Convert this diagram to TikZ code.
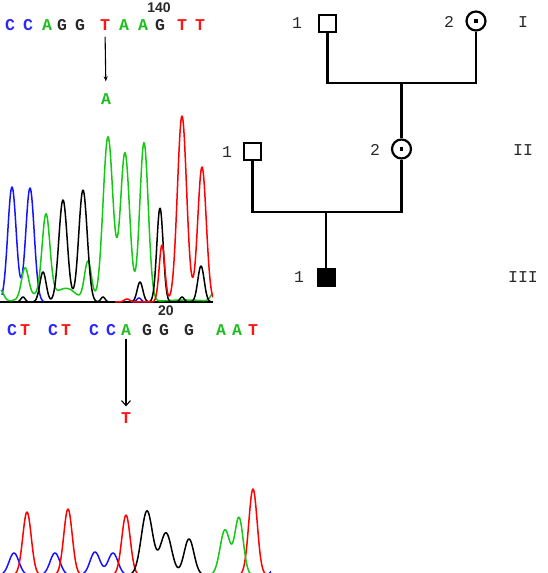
\documentclass[tikz,border=0pt]{standalone}
\usepackage{fontspec}
\newfontfamily\seqfont{Liberation Mono}
\newfontfamily\numfont{Liberation Sans}
\usetikzlibrary{arrows.meta}
\definecolor{sqblue}{RGB}{40,40,255}
\definecolor{sqgreen}{RGB}{30,190,30}
\definecolor{sqred}{RGB}{255,20,20}
\definecolor{sqblack}{RGB}{40,40,40}
\definecolor{trblue}{RGB}{20,20,255}
\definecolor{trgreen}{RGB}{20,200,20}
\definecolor{trred}{RGB}{255,0,0}
\begin{document}
\begin{tikzpicture}[x=1pt,y=-1pt,
  declare function={g(\x,\c,\w)=exp(-min(((\x-\c)/\w)^2,20));},
  base/.style={inner sep=0pt,anchor=center},
  seq/.style={base,font=\seqfont\bfseries\fontsize{16.5}{16.5}\selectfont},
  lb/.style={seq,text=sqblue},
  lg/.style={seq,text=sqgreen},
  lr/.style={seq,text=sqred},
  lk/.style={seq,text=sqblack},
  posnum/.style={base,font=\numfont\bfseries\fontsize{14}{14}\selectfont,text=sqblack},
  plab/.style={base,font=\seqfont\fontsize{16.5}{16.5}\selectfont,text=sqblack},
  trace/.style={line width=1.5pt,line join=round,smooth},
  ped/.style={line width=2.3pt},
  male/.style={draw,line width=2pt,rectangle,minimum size=17pt,inner sep=0pt,fill=white},
  affected/.style={male,fill=black},
  carrier/.style={draw,line width=2.2pt,circle,minimum size=19pt,inner sep=0pt,fill=white},
  dotmark/.style={fill=black,rectangle,minimum size=3.4pt,inner sep=0pt},
  mut/.style={line width=1.1pt}
]
\useasboundingbox (0,0) rectangle (548,573);

% ---------- sequence 1 ----------
\node[posnum] (n140) at (159,8) {140};
\node[lb] (a1) at (10,25) {C};
\node[lb] (a2) at (28,25) {C};
\node[lg] (a3) at (47,25) {A};
\node[lk] (a4) at (62,25) {G};
\node[lk] (a5) at (80,25) {G};
\node[lr] (a6) at (105,25) {T};
\node[lg] (a7) at (124,25) {A};
\node[lg] (a8) at (143,25) {A};
\node[lk] (a9) at (160,25) {G};
\node[lr] (a10) at (182,25) {T};
\node[lr] (a11) at (200,25) {T};
\node[lg] (m1) at (106,99) {A};
\draw[mut,-{Stealth[length=5pt,width=4pt]},shorten <=6pt,shorten >=12pt] (a6.south) -- (m1.north);

% ---------- chromatogram 1 ----------
\begin{scope}
\clip (0,100) rectangle (213,304);
\draw[line width=1.3pt] (0,302) -- (213,302);
\draw[trace,trblue] plot[domain=2:44,samples=80] (\x,{302-115*g(\x,12,6)-114*g(\x,30,6)});
\draw[trace,trblue] plot[domain=130:148,samples=30] (\x,{302-4*g(\x,139,3)});
\draw[trace,trgreen] plot[domain=1:213,samples=320] (\x,{302-12*g(\x,0,5)-30*g(\x,25,5)-80*g(\x,46,5.5)-8*g(\x,45,25)-10*g(\x,68,12)-40*g(\x,88,5)-165*g(\x,108,7)-149*g(\x,125,6.5)-159*g(\x,144,6)-2*g(\x,185,30)-7*g(\x,213,4)});
\draw[trace,black] plot[domain=15:213,samples=320] (\x,{302-5*g(\x,23,3)-30*g(\x,43,4.5)-102*g(\x,63,6)-112*g(\x,83,6)-5*g(\x,103,3)-20*g(\x,140,4)-94*g(\x,160,4.5)-5*g(\x,182,3)-36*g(\x,201,4.5)});
\draw[trace,trred] plot[domain=115:213,samples=200] (\x,{302-3*g(\x,127,4)-57*g(\x,162,4)-186*g(\x,182,6.5)-135*g(\x,202,6)});
\end{scope}

% ---------- sequence 2 ----------
\node[posnum] (n20) at (166,311) {20};
\node[lb] (b1) at (12,330) {C};
\node[lr] (b2) at (25,330) {T};
\node[lb] (b3) at (53,330) {C};
\node[lr] (b4) at (66,330) {T};
\node[lb] (b5) at (94,330) {C};
\node[lb] (b6) at (111,330) {C};
\node[lg] (b7) at (126,330) {A};
\node[lk] (b8) at (147,330) {G};
\node[lk] (b9) at (164,330) {G};
\node[lk] (b10) at (189,330) {G};
\node[lg] (b11) at (221,330) {A};
\node[lg] (b12) at (237,330) {A};
\node[lr] (b13) at (253,330) {T};
\node[lr] (m2) at (126,418) {T};
\draw[mut,-{Straight Barb[length=5pt,width=9pt]},shorten <=3pt,shorten >=6pt] (b7.south) -- (m2.north);

% ---------- chromatogram 2 ----------
\begin{scope}
\clip (0,420) rectangle (271,573);
\draw[trace,trblue] plot[domain=0:271,samples=300] (\x,{575-22*g(\x,14,7)-22*g(\x,55,7)-23*g(\x,95,7)-22*g(\x,113,7)-22*g(\x,279,6)});
\draw[trace,trred] plot[domain=0:271,samples=300] (\x,{575-63*g(\x,27,6)-66*g(\x,68,6)-60*g(\x,126,6)-86*g(\x,253,6)});
\draw[trace,black] plot[domain=120:215,samples=150] (\x,{575-64*g(\x,147,8)-42*g(\x,166,8)-36*g(\x,189,7)});
\draw[trace,trgreen] plot[domain=200:265,samples=120] (\x,{575-45*g(\x,225,7)-57*g(\x,239,6)});
\end{scope}

% ---------- pedigree ----------
\node[male] (i1) at (327.5,23.5) {};
\node[carrier] (i2) at (476,21) {};
\node[dotmark] (i2d) at (i2.center) {};
\node[male] (ii1) at (252.5,151.5) {};
\node[carrier] (ii2) at (401.5,149) {};
\node[dotmark] (ii2d) at (ii2.center) {};
\node[affected] (iii1) at (326,277) {};
\coordinate (mar1) at (401.5,83);
\coordinate (mar2) at (326,212);
\draw[ped] (i1.south) |- (mar1) -| (i2.south);
\draw[ped] (mar1) -- (ii2.north);
\draw[ped] (ii1.south) |- (mar2) -| (ii2.south);
\draw[ped] (mar2) -- (iii1.north);

\node[plab] (l1) at (297,23) {1};
\node[plab] (l2) at (449,22) {2};
\node[plab] (g1) at (523,22) {I};
\node[plab] (l3) at (227,152) {1};
\node[plab] (l4) at (375,150) {2};
\node[plab] (g2) at (523,150) {II};
\node[plab] (l5) at (299,277) {1};
\node[plab] (g3) at (523,277) {III};
\end{tikzpicture}
\end{document}
